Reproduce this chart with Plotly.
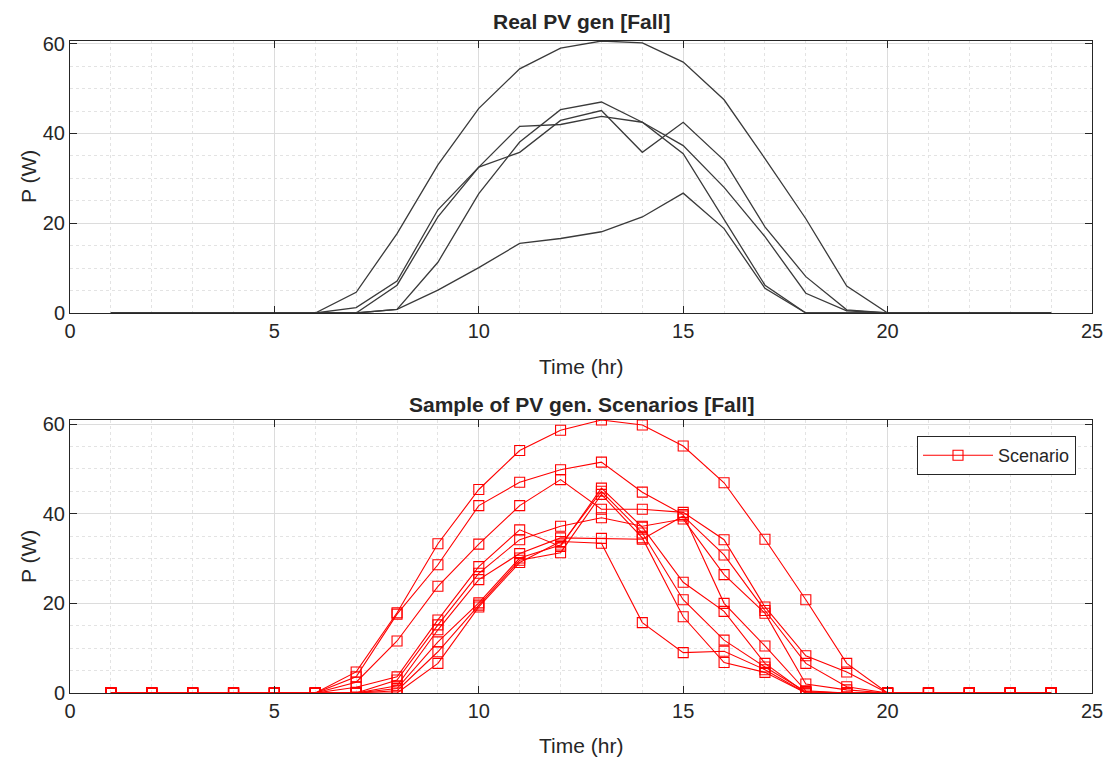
import plotly.graph_objects as go

hours = list(range(1, 25))
Z6 = [0, 0, 0, 0, 0, 0]
Z5 = [0, 0, 0, 0, 0]

# Real PV generation (hours 7..19; zeros elsewhere)
real_a = Z6 + [4.6, 17.7, 33.0, 45.6, 54.4, 59.0, 60.6, 60.2, 55.9, 47.5, 34.4, 21.0, 6.0] + Z5
real_b = Z6 + [1.2, 7.1, 23.0, 32.5, 41.6, 42.0, 43.8, 42.5, 35.5, 21.0, 6.2, 0, 0] + Z5
real_c = Z6 + [0, 0.8, 11.3, 26.6, 38.1, 45.3, 47.0, 42.5, 37.3, 28.0, 17.0, 4.4, 0.5] + Z5
real_d = Z6 + [0, 6.2, 21.4, 32.5, 35.8, 42.9, 45.1, 35.8, 42.5, 34.0, 19.2, 8.1, 0.7] + Z5
real_e = Z6 + [0, 0.8, 5.1, 10.1, 15.5, 16.6, 18.1, 21.4, 26.7, 18.8, 5.5, 0, 0] + Z5
real_series = [real_a, real_b, real_c, real_d, real_e]

# Scenarios
sc1 = Z6 + [4.7, 17.9, 33.3, 45.4, 54.1, 58.6, 60.9, 59.8, 55.1, 46.9, 34.3, 20.8, 6.6] + Z5
sc2 = Z6 + [3.6, 17.6, 28.6, 41.8, 47.0, 49.8, 51.5, 44.8, 39.8, 20.0, 10.5, 0.5, 0] + Z5
sc3 = Z6 + [2.4, 11.6, 23.8, 33.2, 41.8, 47.6, 41.0, 41.0, 40.3, 34.2, 19.2, 8.3, 4.7] + Z5
sc4 = Z6 + [0, 1.6, 14.1, 25.3, 31.1, 34.6, 34.5, 34.3, 39.5, 30.8, 18.4, 6.6, 1.4] + Z5
sc5 = Z6 + [0, 2.9, 15.2, 26.7, 34.2, 37.2, 39.1, 37.2, 38.8, 26.4, 17.8, 2.0, 0.7] + Z5
sc6 = Z6 + [1.3, 3.6, 16.3, 28.2, 36.4, 32.7, 45.7, 37.0, 24.7, 18.2, 6.6, 0, 0] + Z5
sc7 = Z6 + [0, 1.0, 11.4, 20.1, 30.1, 33.0, 45.0, 35.7, 20.8, 11.8, 5.8, 0.3, 0] + Z5
sc8 = Z6 + [0, 0.5, 9.2, 19.6, 29.6, 31.3, 44.3, 34.6, 17.0, 6.8, 4.6, 0, 0] + Z5
sc9 = Z6 + [0, 0, 6.6, 19.2, 29.1, 33.8, 33.4, 15.7, 9.0, 9.3, 5.2, 0, 0] + Z5
scenarios = [sc1, sc2, sc3, sc4, sc5, sc6, sc7, sc8, sc9]

x_ticks = [0, 5, 10, 15, 20, 25]
y_ticks = [0, 20, 40, 60]

W, H = 1117, 762
TXT = "#262626"
FONT = "Liberation Sans, Arial, Helvetica, sans-serif"

fig = go.Figure()
for s in real_series:
    fig.add_trace(go.Scatter(x=hours, y=s, mode="lines", xaxis="x", yaxis="y",
                             line=dict(color="#3a3a3a", width=1.3), showlegend=False))
for i, s in enumerate(scenarios):
    fig.add_trace(go.Scatter(x=hours, y=s, mode="lines+markers", xaxis="x2", yaxis="y2",
                             name="Scenario", showlegend=(i == 0),
                             line=dict(color="#ff0000", width=1.1),
                             marker=dict(symbol="square-open", size=10,
                                         color="#ff0000", line=dict(width=1.1, color="#ff0000"))))

def px_x(p):
    return p / W

def px_y(p):
    return 1 - p / H

xdom = [px_x(70), px_x(1092)]

def xaxis_cfg(anchor):
    return dict(domain=xdom, anchor=anchor, range=[0, 25], tickvals=x_ticks,
                automargin=False,
                showline=True, linecolor=TXT, linewidth=1, mirror="ticks",
                ticks="inside", ticklen=7, tickcolor=TXT,
                showgrid=True, gridcolor="#dcdcdc", gridwidth=1,
                minor=dict(dtick=1, showgrid=True, gridcolor="#e3e3e3", griddash="dot", ticks=""),
                zeroline=False, tickfont=dict(size=20, color=TXT, family=FONT))

def yaxis_cfg(anchor, dom, top):
    return dict(domain=dom, anchor=anchor, range=[0, top], tickvals=y_ticks,
                automargin=False,
                showline=True, linecolor=TXT, linewidth=1, mirror="ticks",
                ticks="inside", ticklen=7, tickcolor=TXT,
                showgrid=True, gridcolor="#dcdcdc", gridwidth=1,
                minor=dict(dtick=5, showgrid=True, gridcolor="#e3e3e3", griddash="dot", ticks=""),
                zeroline=False, tickfont=dict(size=20, color=TXT, family=FONT))

fig.update_layout(
    width=W, height=H, margin=dict(l=0, r=0, t=0, b=0, autoexpand=False),
    paper_bgcolor="white", plot_bgcolor="white",
    font=dict(family=FONT, color=TXT),
    xaxis=xaxis_cfg("y"),
    yaxis=yaxis_cfg("x", [px_y(313), px_y(41)], 60.6),
    xaxis2=xaxis_cfg("y2"),
    yaxis2=yaxis_cfg("x2", [px_y(693), px_y(420)], 60.9),
    legend=dict(x=px_x(1076), y=px_y(436), xanchor="right", yanchor="top",
                bgcolor="white", bordercolor=TXT, borderwidth=1, itemwidth=70,
                font=dict(size=18, color=TXT, family=FONT)),
)

ann = [
    dict(text="<b>Real PV gen [Fall]</b>", x=px_x(581), y=px_y(22), size=21, angle=0),
    dict(text="Time (hr)", x=px_x(581), y=px_y(366), size=21, angle=0),
    dict(text="P (W)", x=px_x(28), y=px_y(177), size=21, angle=-90),
    dict(text="<b>Sample of PV gen. Scenarios [Fall]</b>", x=px_x(581), y=px_y(404), size=21, angle=0),
    dict(text="Time (hr)", x=px_x(581), y=px_y(745), size=21, angle=0),
    dict(text="P (W)", x=px_x(28), y=px_y(557), size=21, angle=-90),
]
for a in ann:
    fig.add_annotation(text=a["text"], x=a["x"], y=a["y"], xref="paper", yref="paper",
                       showarrow=False, textangle=a["angle"], xanchor="center", yanchor="middle",
                       font=dict(size=a["size"], color=TXT, family=FONT))

fig.write_html("out.html")
